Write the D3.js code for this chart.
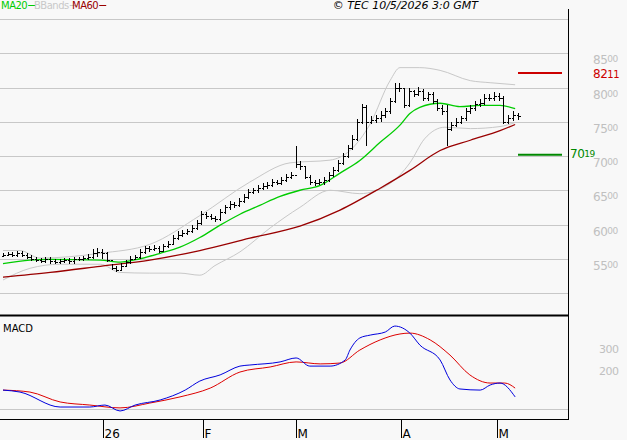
<!DOCTYPE html><html><head><meta charset="utf-8"><script src="https://cdn.jsdelivr.net/npm/d3@7"></script>
<style>body{margin:0;background:#f8f8f8}svg{display:block}text{font-family:"DejaVu Sans",sans-serif}</style></head><body>
<script>
const close=[5560,5570,5550,5580,5560,5530,5500,5480,5470,5490,5460,5450,5470,5480,5460,5490,5500,5510,5530,5580,5600,5590,5480,5370,5340,5400,5450,5500,5520,5600,5650,5640,5660,5620,5680,5720,5800,5850,5880,5900,5950,6020,6150,6120,6100,6080,6180,6250,6300,6280,6350,6400,6480,6500,6530,6560,6580,6620,6600,6650,6700,6720,6880,6850,6700,6620,6600,6620,6650,6720,6800,6900,7000,7120,7250,7500,7720,7500,7520,7550,7600,7650,7800,8000,8000,7750,7950,7900,7950,7850,7900,7800,7700,7650,7400,7450,7500,7550,7650,7700,7760,7780,7850,7850,7870,7850,7500,7550,7600,7580];
const high=[5590,5600,5600,5610,5610,5590,5560,5530,5510,5520,5520,5490,5500,5510,5510,5520,5530,5540,5570,5640,5650,5640,5600,5420,5400,5440,5480,5540,5560,5640,5690,5680,5700,5690,5720,5760,5840,5900,5920,5940,5990,6060,6190,6180,6150,6130,6220,6290,6340,6330,6390,6440,6520,6540,6570,6600,6620,6660,6650,6690,6740,6760,7140,6920,6860,6720,6650,6660,6700,6760,6840,6940,7040,7160,7300,7540,7760,7740,7580,7600,7650,7700,7840,8070,8060,8000,7990,7970,8010,7980,7940,7930,7830,7740,7750,7500,7550,7590,7700,7750,7800,7830,7900,7910,7930,7920,7880,7600,7650,7630];
const low=[5520,5540,5520,5530,5530,5500,5470,5450,5440,5440,5430,5420,5420,5440,5430,5430,5460,5470,5480,5500,5520,5500,5450,5340,5310,5330,5380,5430,5480,5500,5570,5600,5610,5590,5600,5650,5700,5770,5820,5850,5870,5920,5990,6080,6060,6040,6050,6150,6210,6240,6250,6310,6370,6450,6460,6500,6520,6550,6570,6570,6620,6670,6820,6800,6660,6580,6560,6570,6580,6620,6690,6770,6870,6970,7090,7220,7460,7150,7460,7480,7500,7560,7620,7770,7940,7700,7720,7860,7870,7810,7810,7760,7660,7600,7150,7360,7420,7460,7510,7610,7660,7720,7740,7800,7810,7800,7460,7470,7510,7530];
const firstOpen=5540;
const maIdx20=[0,5.7,10,20.6,24.8,29,33.3,37.5,41.7,46,50.2,54.4,58.7,62.9,67.2,71.4,75.6,79.9,84.1,86.2,88.3,92.6,96.8,101.1,105.3,108.5];
const ma20=[5430,5480,5490,5480,5450,5500,5580,5670,5810,5990,6150,6280,6410,6500,6570,6750,6935,7200,7450,7620,7710,7770,7720,7740,7740,7690];
const maIdx60=[0,10,20.6,31.1,41.7,52.3,62.9,71.4,79.9,86.2,92.6,99,105.3,108.5];
const ma60=[5230,5300,5390,5480,5620,5800,5975,6210,6530,6790,7080,7230,7370,7460];
const bbUpIdx=[0,3.6,7.8,20.6,31.1,41.7,52.3,60.8,69.3,73.5,77.8,82,84.1,88.3,92.6,99,103.2,108.5];
const bbUp=[5620,5620,5510,5580,5710,6130,6620,6900,6940,7080,7470,8100,8290,8290,8250,8100,8070,8040];
const bbLoIdx=[0,5.7,12.1,20.6,24.8,31.1,37.5,41.7,44.9,50.2,56.6,62.9,69.3,75.6,82,86.2,89.3,93.6,99,105.3,108.5];
const bbLo=[5190,5360,5420,5420,5300,5290,5290,5260,5400,5600,5950,6250,6500,6450,6600,6900,7250,7420,7400,7430,7490];
const macdIdx=[0,3.6,12.1,18.4,21.6,24.8,28,33.3,38.6,41.7,46,50.2,52.3,58.7,62.1,65,69.3,72.5,73.5,75.6,77.8,81,83,86.2,88.3,92.6,94.7,96.8,101.1,103.2,105.3,108.5];
const macd=[86,77,9,9,18,-9,18,41,86,127,155,195,200,214,232,195,195,223,268,323,336,350,377,345,291,223,132,91,86,109,118,55];
const sigIdx=[0,5.7,12.1,18.4,24.8,31.1,37.5,43.9,50.2,56.6,62.1,67.2,71.4,75.6,79.9,84.1,86.2,90.5,94.7,98.9,103.2,106.3,108.5];
const signal=[86,77,32,18,5,27,55,95,168,191,214,205,209,268,314,341,345,314,245,155,118,118,95];
const priceTicks=[8500,8000,7500,7000,6500,6000,5500];
const priceGrid=[9000,8500,8000,7500,7000,6500,6000,5500,5000];
const macdTicks=[300,200];
const monthTicks=[{i:21.2,l:"26"},{i:42.4,l:"F"},{i:62.1,l:"M"},{i:84.3,l:"A"},{i:104.7,l:"M"}];
const resistance=8211, support=7019;

const W=627,H=440;
const svg=d3.select("body").append("svg").attr("width",W).attr("height",H);
svg.append("rect").attr("width",W).attr("height",H).attr("fill","#f8f8f8");
const x=d3.scaleLinear().domain([0,109]).range([3,517.5]);
const y=d3.scaleLinear().domain([5000,9000]).range([293,19]);
const ym=d3.scaleLinear().domain([0,300]).range([409,343]);
svg.selectAll(".g").data(priceGrid).join("line").attr("x1",0).attr("x2",568).attr("y1",d=>Math.round(y(d))+.5).attr("y2",d=>Math.round(y(d))+.5).attr("stroke","#c8c8c8");
svg.append("line").attr("x1",0).attr("x2",568).attr("y1",409.5).attr("y2",409.5).attr("stroke","#c8c8c8");
priceTicks.forEach(v=>{const t=svg.append("text").attr("x",593).attr("y",Math.round(y(v))+11).attr("fill","#c0c0c0").attr("font-size",12).attr("letter-spacing",-0.5);
 t.append("tspan").text(String(v).slice(0,2));t.append("tspan").attr("font-size",9).attr("dy",-2).text("00");});
macdTicks.forEach(v=>svg.append("text").attr("x",599).attr("y",ym(v)+10).attr("fill","#c0c0c0").attr("font-size",11).attr("letter-spacing",-0.5).text(v));
const line=(xs,vs,sc)=>d3.line().x(d=>x(d[0])).y(d=>sc(d[1])).curve(d3.curveMonotoneX)(xs.map((a,k)=>[a,vs[k]]));
svg.append("path").attr("d",line(bbUpIdx,bbUp,y)).attr("fill","none").attr("stroke","#c8c8c8");
svg.append("path").attr("d",line(bbLoIdx,bbLo,y)).attr("fill","none").attr("stroke","#c8c8c8");
svg.append("path").attr("d",line(maIdx60,ma60,y)).attr("fill","none").attr("stroke","#990000").attr("stroke-width",1.3);
svg.append("path").attr("d",line(maIdx20,ma20,y)).attr("fill","none").attr("stroke","#00cc00").attr("stroke-width",1.3);
const bars=svg.append("g").attr("stroke","#000").attr("shape-rendering","crispEdges");
close.forEach((c,i)=>{const xi=Math.round(x(i))+.5,o=i?close[i-1]:firstOpen;
 bars.append("line").attr("x1",xi).attr("x2",xi).attr("y1",y(high[i])).attr("y2",y(low[i]));
 bars.append("line").attr("x1",xi-2).attr("x2",xi).attr("y1",Math.round(y(o))+.5).attr("y2",Math.round(y(o))+.5);
 bars.append("line").attr("x1",xi).attr("x2",xi+2).attr("y1",Math.round(y(c))+.5).attr("y2",Math.round(y(c))+.5);});
svg.append("line").attr("x1",518).attr("x2",562).attr("y1",y(resistance)).attr("y2",y(resistance)).attr("stroke","#cc0000").attr("stroke-width",2);
svg.append("line").attr("x1",518).attr("x2",562).attr("y1",y(support)).attr("y2",y(support)).attr("stroke","#008800").attr("stroke-width",2);
const rt=svg.append("text").attr("x",593).attr("y",y(resistance)+5).attr("fill","#cc0000").attr("font-size",12).attr("letter-spacing",-0.5);
rt.append("tspan").text("82");rt.append("tspan").attr("font-size",10).text("11");
const st=svg.append("text").attr("x",570).attr("y",y(support)+3).attr("fill","#008800").attr("font-size",12).attr("letter-spacing",-0.5);
st.append("tspan").text("70");st.append("tspan").attr("font-size",9).attr("dy",-1).text("19");
svg.append("path").attr("d",line(sigIdx,signal,ym)).attr("fill","none").attr("stroke","#dd0000");
svg.append("path").attr("d",line(macdIdx,macd,ym)).attr("fill","none").attr("stroke","#0000dd");
svg.append("text").attr("x",3).attr("y",332).attr("font-size",10).text("MACD");
svg.append("line").attr("x1",568.5).attr("x2",568.5).attr("y1",9).attr("y2",420).attr("stroke","#000");
svg.append("line").attr("x1",0).attr("x2",569).attr("y1",315.5).attr("y2",315.5).attr("stroke","#000").attr("stroke-width",2);
svg.append("line").attr("x1",0).attr("x2",569).attr("y1",419.5).attr("y2",419.5).attr("stroke","#000");
monthTicks.forEach(t=>{const xi=Math.round(x(t.i))+.5;
 svg.append("line").attr("x1",xi).attr("x2",xi).attr("y1",420).attr("y2",438).attr("stroke","#000");
 svg.append("text").attr("x",xi+1).attr("y",438).attr("font-size",12).text(t.l);});
const lg=[{t:"MA20",c:"#00cc00",x:1},{t:"BBands",c:"#c8c8c8",x:34},{t:"MA60",c:"#990000",x:72}];
lg.forEach(l=>{const t=svg.append("text").attr("x",l.x).attr("y",9).attr("font-size",10).attr("fill",l.c).attr("letter-spacing",-0.5).text(l.t);
 const w=t.node().getComputedTextLength();
 svg.append("line").attr("x1",l.x+w+1).attr("x2",l.x+w+8).attr("y1",5.5).attr("y2",5.5).attr("stroke",l.c);});
svg.append("text").attr("x",478).attr("y",9).attr("text-anchor","end").attr("font-size",11).attr("font-style","italic").text("© TEC 10/5/2026 3:0 GMT");
</script></body></html>
